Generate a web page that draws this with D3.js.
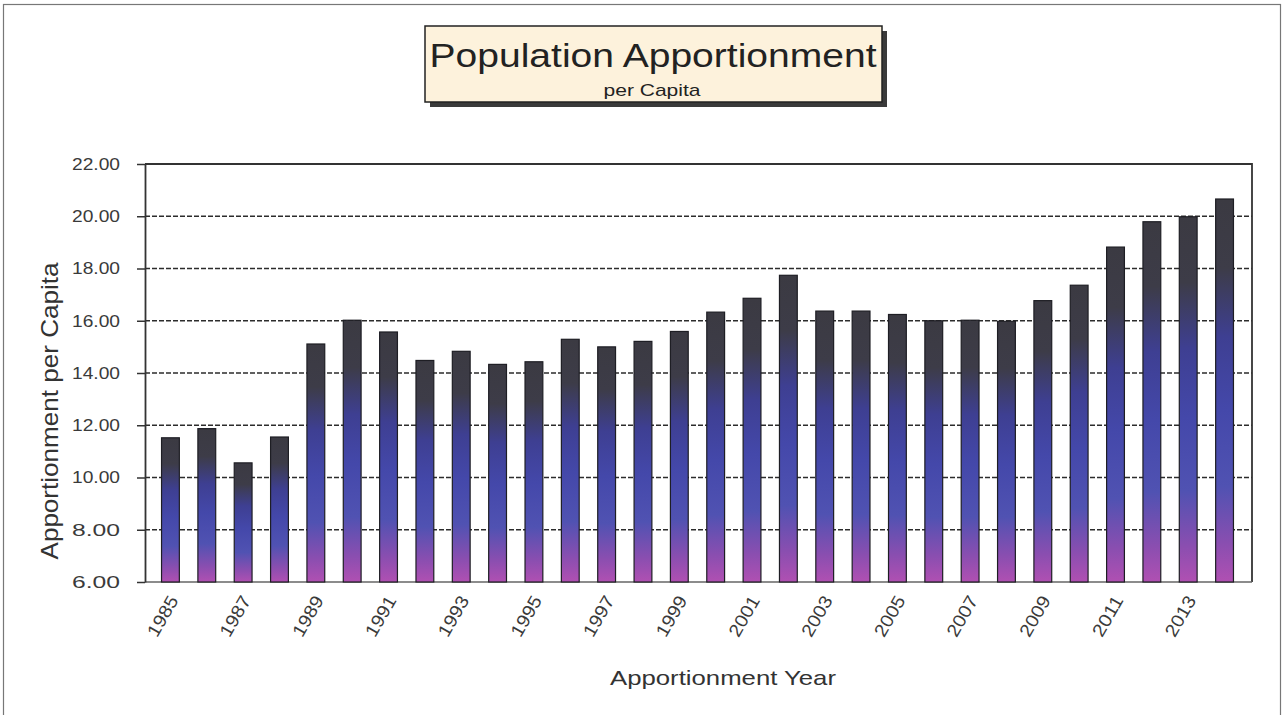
<!DOCTYPE html>
<html>
<head>
<meta charset="utf-8">
<script src="https://cdn.jsdelivr.net/npm/d3@7"></script>
<style>
  body { margin: 0; background: #fff; }
  svg { display: block; font-family: "Liberation Sans", Arial, sans-serif; }
</style>
</head>
<body>
<svg id="chart" width="1283" height="715"></svg>
<script>
// data
const years = d3.range(1985, 2015);
const perCapita = [
  11.52, 11.87, 10.56, 11.55, 15.11, 16.02, 15.57, 14.48, 14.83, 14.33,
  14.43, 15.29, 15.00, 15.21, 15.59, 16.33, 16.86, 17.74, 16.37, 16.37,
  16.24, 16.00, 16.02, 15.98, 16.77, 17.36, 18.82, 19.79, 19.98, 20.66
];
const yTicks = [6, 8, 10, 12, 14, 16, 18, 20, 22];
const labelYears = years.filter((d, i) => i % 2 === 0);

const svg = d3.select("#chart");
const W = 1283, H = 715;

// outer frame
svg.append("rect")
    .attr("x", 3.5).attr("y", 4.5)
    .attr("width", W - 6).attr("height", H + 10)
    .attr("fill", "none").attr("stroke", "#777").attr("stroke-width", 1.2);

const x = d3.scaleBand()
    .domain(years)
    .range([143, 1252])
    .padding(0.51);

const y = d3.scaleLinear()
    .domain([6, 22])
    .range([582, 164]);

// gradient for the bars
const defs = svg.append("defs");
const grad = defs.append("linearGradient")
    .attr("id", "barGrad")
    .attr("x1", 0).attr("y1", 0).attr("x2", 0).attr("y2", 1);
[
  [0, "#3b3a42"], [0.18, "#3d3c48"], [0.36, "#3e3f92"],
  [0.55, "#4448aa"], [0.75, "#5052b2"], [0.9, "#8a4eb0"], [1, "#b050b2"]
].forEach(([o, c]) => grad.append("stop").attr("offset", o).attr("stop-color", c));

// gridlines
svg.append("g")
  .selectAll("line")
  .data(yTicks.filter(d => d > 6 && d < 22))
  .join("line")
    .attr("x1", 145).attr("x2", 1252)
    .attr("y1", d => y(d)).attr("y2", d => y(d))
    .attr("stroke", "#2c2c2c")
    .attr("stroke-width", 1.7)
    .attr("stroke-dasharray", "5,2");

// plot border (top and right)
svg.append("path")
    .attr("d", `M145,${y(22)}H1252V582`)
    .attr("fill", "none").attr("stroke", "#333").attr("stroke-width", 1.8);
// bottom line
svg.append("line")
    .attr("x1", 145).attr("x2", 1252).attr("y1", 582).attr("y2", 582)
    .attr("stroke", "#666").attr("stroke-width", 1.5);

// bars
svg.append("g")
  .selectAll("rect")
  .data(perCapita)
  .join("rect")
    .attr("x", (d, i) => x(years[i]))
    .attr("y", d => y(d))
    .attr("width", x.bandwidth())
    .attr("height", d => y(6) - y(d))
    .attr("fill", "url(#barGrad)")
    .attr("stroke", "#1e1e24")
    .attr("stroke-width", 1.2);

// y axis
const yAxis = svg.append("g")
    .attr("transform", "translate(145,0)")
    .call(d3.axisLeft(y).tickValues(yTicks).tickFormat(d3.format(".2f")).tickSize(8).tickSizeOuter(0));
yAxis.select(".domain").attr("stroke", "#333").attr("stroke-width", 1.8);
yAxis.selectAll(".tick line").attr("stroke", "#333").attr("stroke-width", 1.5);
yAxis.selectAll(".tick text")
    .attr("x", -25)
    .attr("font-size", 17)
    .attr("textLength", 48)
    .attr("lengthAdjust", "spacingAndGlyphs")
    .attr("fill", "#3a3a3a");

// x tick labels
svg.append("g")
  .selectAll("text")
  .data(labelYears)
  .join("text")
    .attr("transform", d => `translate(${x(d) + x.bandwidth() / 2 + 3},${597}) rotate(-60)`)
    .attr("text-anchor", "end")
    .attr("dy", "0.35em")
    .attr("font-size", 18)
    .attr("textLength", 44)
    .attr("lengthAdjust", "spacingAndGlyphs")
    .attr("fill", "#3a3a3a")
    .text(d => d);

// axis titles
svg.append("text")
    .attr("x", 723).attr("y", 685)
    .attr("text-anchor", "middle")
    .attr("font-size", 21)
    .attr("textLength", 226)
    .attr("lengthAdjust", "spacingAndGlyphs")
    .attr("fill", "#333")
    .text("Apportionment Year");

svg.append("text")
    .attr("transform", "translate(58,411) rotate(-90)")
    .attr("text-anchor", "middle")
    .attr("font-size", 24)
    .attr("textLength", 297)
    .attr("lengthAdjust", "spacingAndGlyphs")
    .attr("fill", "#333")
    .text("Apportionment per Capita");

// title box
const tb = svg.append("g");
tb.append("rect")
    .attr("x", 430).attr("y", 31).attr("width", 457).attr("height", 76)
    .attr("fill", "#3a3a3a");
tb.append("rect")
    .attr("x", 425).attr("y", 26).attr("width", 457).attr("height", 76)
    .attr("fill", "#fdf2dc").attr("stroke", "#222").attr("stroke-width", 1.5);
tb.append("text")
    .attr("x", 653).attr("y", 67)
    .attr("text-anchor", "middle")
    .attr("font-size", 33)
    .attr("textLength", 447)
    .attr("lengthAdjust", "spacingAndGlyphs")
    .attr("fill", "#222")
    .text("Population Apportionment");
tb.append("text")
    .attr("x", 652).attr("y", 96)
    .attr("text-anchor", "middle")
    .attr("font-size", 17)
    .attr("textLength", 97)
    .attr("lengthAdjust", "spacingAndGlyphs")
    .attr("fill", "#222")
    .text("per Capita");
</script>
</body>
</html>
